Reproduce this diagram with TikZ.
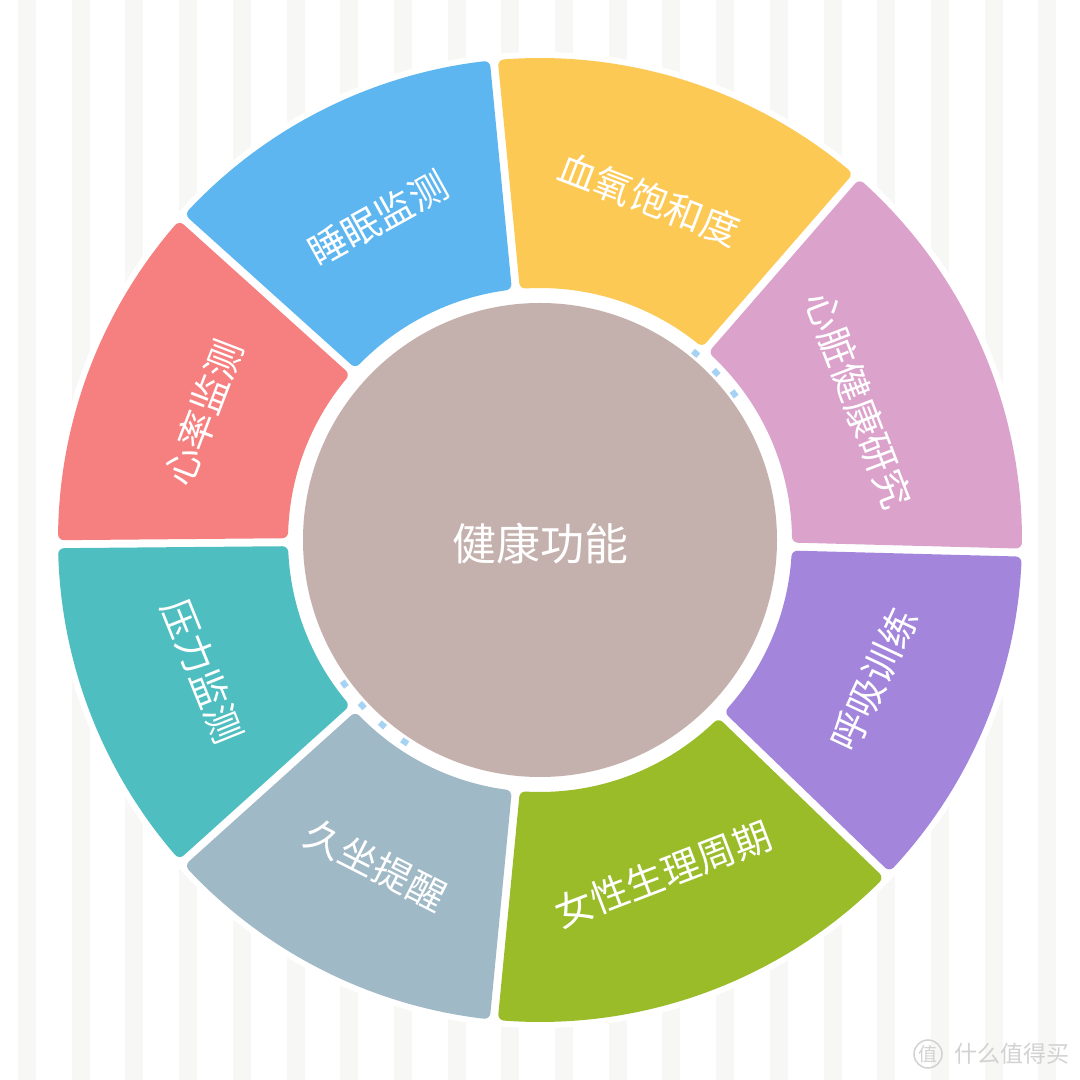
\documentclass[tikz,border=0pt]{standalone}
\usepackage{fontspec}
\newfontfamily\cjk{Noto Sans CJK SC}
\definecolor{stripec}{HTML}{F7F7F5}
\definecolor{cyellow}{HTML}{FDC955}
\definecolor{cblue}{HTML}{5EB6F0}
\definecolor{cred}{HTML}{F67F7F}
\definecolor{cteal}{HTML}{4FBEC0}
\definecolor{cgreyblue}{HTML}{A0B9C6}
\definecolor{cgreen}{HTML}{99BC28}
\definecolor{cpurple}{HTML}{A385DC}
\definecolor{cpink}{HTML}{DBA2CC}
\definecolor{ccenter}{HTML}{C4B0AC}
\definecolor{dashc}{HTML}{A6D2F4}
\definecolor{wmark}{HTML}{D2D2D2}
\tikzset{
  lab/.style={text=white, font=\cjk\fontsize{38}{38}\selectfont, inner sep=0pt},
  seg/.style={line width=12pt, line join=round},
  dashring/.style={draw=dashc, line width=6pt, dash pattern=on 7pt off 21pt}
}
\begin{document}
\begin{tikzpicture}[x=1pt,y=1pt]
\useasboundingbox (0,0) rectangle (1080,1080);
\fill[white] (0,0) rectangle (1080,1080);
\foreach \k in {0,...,19} \fill[stripec] ({18+53.7*\k},0) rectangle ++(18,1080);
\fill[white] (540,540) circle (488);
\begin{scope}[shift={(540,540)}]
\foreach \a/\b/\c in {49/95.5/cyellow, 95.5/138/cblue, 138/180.5/cred, 180.5/222/cteal, 222/264.5/cgreyblue, 264.5/316/cgreen, 316/358.5/cpurple, 358.5/409/cpink} {
  \pgfmathsetmacro\ai{\a+asin(10/258)}
  \pgfmathsetmacro\ao{\a+asin(10/476)}
  \pgfmathsetmacro\bi{\b-asin(10/258)}
  \pgfmathsetmacro\bo{\b-asin(10/476)}
  \filldraw[seg, fill=\c, draw=\c] (\ai:258) -- (\ao:476) arc[start angle=\ao, end angle=\bo, radius=476] -- (\bi:258) arc[start angle=\bi, end angle=\ai, radius=258] -- cycle;
}
\draw[dashring] (51:243) arc[start angle=51, end angle=35, radius=243];
\draw[dashring] (237:243) arc[start angle=237, end angle=215, radius=243];
\fill[ccenter] (0,0) circle (237);
\node[text=white, font=\cjk\fontsize{44}{44}\selectfont, inner sep=0pt] (center) at (0,-4) {健康功能};
\node[lab, rotate=-21] (l1) at (72.25:358) {血氧饱和度};
\node[lab, rotate=29] (l2) at (116.75:360) {睡眠监测};
\node[lab, rotate=69] (l3) at (159.25:360) {心率监测};
\node[lab, rotate=-68] (l4) at (201.25:362) {压力监测};
\node[lab, rotate=-27] (l5) at (243.25:364) {久坐提醒};
\node[lab, rotate=21] (l6) at (290.25:356) {女性生理周期};
\node[lab, rotate=65] (l7) at (337.25:362) {呼吸训练};
\node[lab, rotate=-69] (l8) at (23.75:348) {心脏健康研究};
\end{scope}
\draw[wmark, line width=1.5pt] (928,26) circle (14);
\node[text=wmark, font=\cjk\fontsize{19}{19}\selectfont, inner sep=0pt] (wm1) at (928,26) {值};
\node[text=wmark, font=\cjk\fontsize{23}{23}\selectfont, inner sep=0pt] (wm2) at (1012,26) {什么值得买};
\end{tikzpicture}
\end{document}
